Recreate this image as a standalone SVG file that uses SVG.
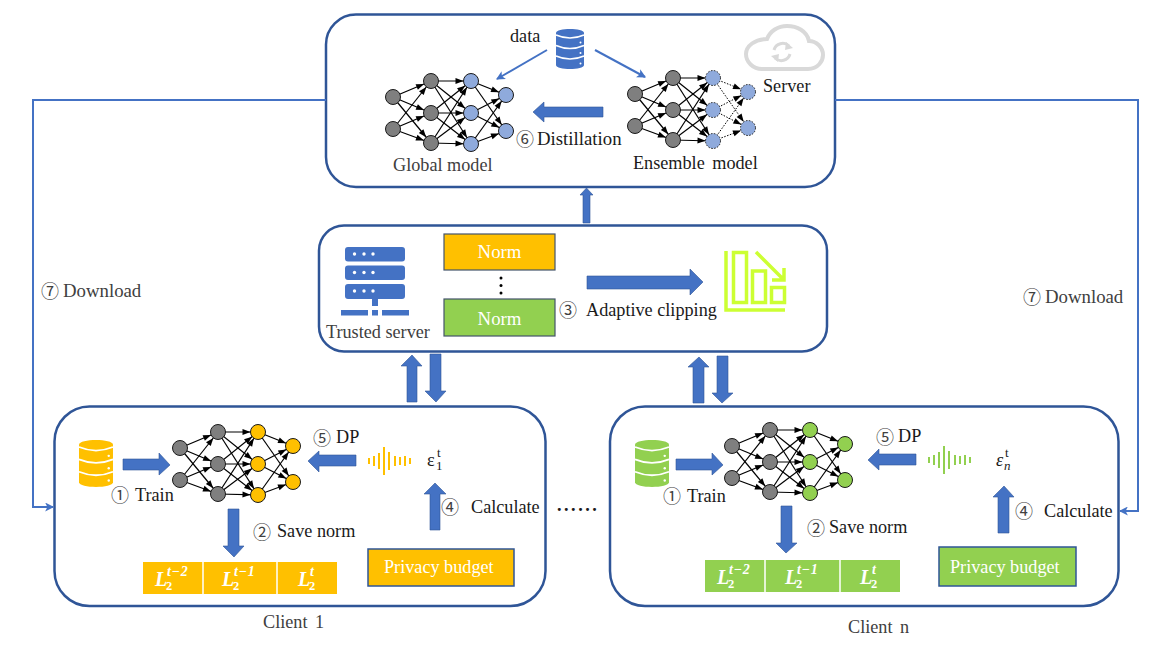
<svg xmlns="http://www.w3.org/2000/svg" width="1150" height="657" viewBox="0 0 1150 657">
<style>
text{font-family:"Liberation Serif","Noto Sans CJK SC",serif;font-size:18.2px;fill:#1a1a1a}
.big{font-size:18.8px}
.g{fill:#404040}
.c{font-size:18px;fill:#404040}
.w{fill:#fff}
.box{fill:#fff;stroke:#2f5597;stroke-width:2.5}
.ba{fill:#4472c4;stroke:#2f5597;stroke-width:.6}
.link{fill:none;stroke:#4472c4;stroke-width:2}
.e{stroke:#000;stroke-width:1.2;marker-end:url(#tip)}
.d{stroke:#000;stroke-width:1;stroke-dasharray:1.5 1.5;marker-end:url(#tip)}
.n{stroke:#1a1a1a;stroke-width:1}
.nd{stroke:#1a1a1a;stroke-width:1;stroke-dasharray:1.5 1.5}
.sep{fill:none;stroke:#fff;stroke-width:1.5}
.lb{font-size:20px;font-weight:bold;font-style:italic;fill:#fff}
.ls{font-size:14px;font-weight:bold;font-style:italic;fill:#fff;letter-spacing:.7px}
.l2{font-size:12.5px;font-weight:bold;font-style:normal;fill:#fff}
.sm{font-size:13px}
.srv{fill:#4472c4}
.clip{fill:none;stroke:#ccff33;stroke-width:3.5}
</style>
<defs>
<marker id="tip" viewBox="0 0 8 6" refX="15.5" refY="3" markerWidth="8" markerHeight="6" markerUnits="userSpaceOnUse" orient="auto" overflow="visible"><path d="M0 0L8 3L0 6Z" fill="#000"/></marker>
<marker id="open" viewBox="0 0 8 8" refX="7" refY="4" markerWidth="9" markerHeight="9" markerUnits="userSpaceOnUse" orient="auto"><path d="M0 0L8 4L0 8L2 4Z" fill="#4472c4"/></marker>
<g id="e12">
<path class="e" d="M0 16L38 0"/><path class="e" d="M0 16L38 32"/><path class="e" d="M0 16L38 62"/>
<path class="e" d="M0 48L38 0"/><path class="e" d="M0 48L38 32"/><path class="e" d="M0 48L38 62"/>
</g>
<g id="e23">
<path class="e" d="M38 0L78 0"/><path class="e" d="M38 0L78 32"/><path class="e" d="M38 0L78 63"/>
<path class="e" d="M38 32L78 0"/><path class="e" d="M38 32L78 32"/><path class="e" d="M38 32L78 63"/>
<path class="e" d="M38 62L78 0"/><path class="e" d="M38 62L78 32"/><path class="e" d="M38 62L78 63"/>
</g>
<g id="e34">
<path class="e" d="M78 0L113 14"/><path class="e" d="M78 0L113 50"/>
<path class="e" d="M78 32L113 14"/><path class="e" d="M78 32L113 50"/>
<path class="e" d="M78 63L113 14"/><path class="e" d="M78 63L113 50"/>
</g>
<g id="e34d">
<path class="d" d="M78 0L113 14"/><path class="d" d="M78 0L113 50"/>
<path class="d" d="M78 32L113 14"/><path class="d" d="M78 32L113 50"/>
<path class="d" d="M78 63L113 14"/><path class="d" d="M78 63L113 50"/>
</g>
<g id="n12" fill="#7f7f7f">
<circle class="n" cx="0" cy="16" r="7.5"/><circle class="n" cx="0" cy="48" r="7.5"/>
<circle class="n" cx="38" cy="0" r="7.5"/><circle class="n" cx="38" cy="32" r="7.5"/><circle class="n" cx="38" cy="62" r="7.5"/>
</g>
<g id="n34">
<circle class="n" cx="78" cy="0" r="7.5"/><circle class="n" cx="78" cy="32" r="7.5"/><circle class="n" cx="78" cy="63" r="7.5"/>
<circle class="n" cx="113" cy="14" r="7.5"/><circle class="n" cx="113" cy="50" r="7.5"/>
</g>
<g id="n34d">
<circle class="nd" cx="78" cy="0" r="7.5"/><circle class="nd" cx="78" cy="32" r="7.5"/><circle class="nd" cx="78" cy="63" r="7.5"/>
<circle class="nd" cx="113" cy="14" r="7.5"/><circle class="nd" cx="113" cy="50" r="7.5"/>
</g>
<g id="db">
<path d="M0 4C0 -1.300 28 -1.300 28 4V36C28 41.300 0 41.300 0 36Z"/>
<path class="sep" d="M0 6Q14 12 28 6M0 16.500Q14 22.500 28 16.500M0 27Q14 33 28 27"/>
<circle cx="24.500" cy="13.500" r="1" fill="#fff"/><circle cx="24.500" cy="24" r="1" fill="#fff"/><circle cx="24.500" cy="34.500" r="1" fill="#fff"/>
</g>
<g id="wave" fill="none" stroke-width="2">
<path d="M369 458V464M374 456V466M379 453V469M384 447V475M389 452V470M395 456V466M400 457V465M405 456V466M410 458V464"/>
</g>
</defs>
<rect width="1150" height="657" fill="#fff"/>

<g id="server-box">
<rect class="box" x="326" y="14.500" width="509" height="172.500" rx="30"/>
<use href="#db" transform="translate(556 29)" fill="#4472c4"/>
<text x="510" y="42">data</text>
<g id="cloud" fill="none" stroke="#d9d9d9">
<path stroke-width="4" d="M762 69H808C818 69 823 61 823 55C823 47 816 41 809 41C807 31 797 26 787 26C778 26 770 31 767 39C755 39 746 46 746 54C746 62 753 69 762 69Z"/>
<path stroke-width="3" d="M774 50A9 9 0 0 1 789 46M790 54A9 9 0 0 1 775 58"/>
<path stroke="none" fill="#d9d9d9" d="M786 42L793 48L785 50ZM778 62L771 56L779 54Z"/>
</g>
<text x="763" y="92">Server</text>
<text x="516" y="146" class="c">⑥</text>
<text x="537" y="145" class="big">Distillation</text>
<text x="393" y="171" class="g">Global model</text>
<text x="633" y="169" word-spacing="3">Ensemble model</text>
</g>
<g id="global-model" transform="translate(393 81)">
<use href="#e12"/><use href="#e23"/><use href="#e34"/><use href="#n12"/><use href="#n34" fill="#8faadc"/>
</g>
<g id="ensemble-model" transform="translate(635 78)">
<use href="#e12"/><use href="#e23"/><use href="#e34d"/><use href="#n12"/><use href="#n34d" fill="#8faadc"/>
</g>

<g id="trusted-server">
<rect class="box" x="319" y="225.500" width="508" height="126" rx="25"/>
<rect class="srv" x="345" y="247" width="60" height="14.500" rx="3"/>
<rect class="srv" x="345" y="265.500" width="60" height="14.500" rx="3"/>
<rect class="srv" x="345" y="284" width="60" height="15" rx="3"/>
<g fill="#fff"><circle cx="354.500" cy="254" r="1.700"/><circle cx="364" cy="254" r="1.700"/><circle cx="373" cy="254" r="1.700"/><circle cx="354.500" cy="272.500" r="1.700"/><circle cx="364" cy="272.500" r="1.700"/><circle cx="373" cy="272.500" r="1.700"/><circle cx="354.500" cy="291" r="1.700"/><circle cx="364" cy="291" r="1.700"/><circle cx="373" cy="291" r="1.700"/></g>
<rect class="srv" x="372" y="299" width="6" height="7"/>
<rect class="srv" x="341" y="310" width="27" height="5.500"/>
<rect class="srv" x="372" y="310" width="6" height="5.500"/>
<rect class="srv" x="382" y="310" width="27" height="5.500"/>
<text x="326" y="338" class="g">Trusted server</text>
<rect x="444" y="234" width="111" height="36" fill="#ffc000" stroke="#44546a" stroke-width="1.200"/>
<text x="499.500" y="258" text-anchor="middle" class="w big">Norm</text>
<circle cx="501" cy="278" r="1.500" fill="#000"/><circle cx="501" cy="285.500" r="1.500" fill="#000"/><circle cx="501" cy="293" r="1.500" fill="#000"/>
<rect x="444" y="299" width="111" height="37" fill="#92d050" stroke="#44546a" stroke-width="1.200"/>
<text x="499.500" y="325" text-anchor="middle" class="w big">Norm</text>
<text x="559" y="317" class="c">③</text>
<text x="586" y="316">Adaptive clipping</text>
<g id="clip-icon" class="clip">
<path d="M726 251V310H785"/>
<rect x="733.500" y="252.500" width="13" height="50"/>
<rect x="752.500" y="271" width="13" height="31.500"/>
<rect x="771.500" y="287.500" width="13" height="15"/>
<path d="M756 252L783 279M772 280H784V268"/>
</g>
</g>

<g id="client-1">
<rect class="box" x="54.500" y="406.500" width="491" height="199.500" rx="35"/>
<use href="#db" transform="translate(79 440) scale(1.214 1.175)" fill="#ffc000"/>
<g transform="translate(180 432)"><use href="#e12"/><use href="#e23"/><use href="#e34"/><use href="#n12"/><use href="#n34" fill="#ffc000"/></g>
<use href="#wave" stroke="#ffc000"/>
<text x="111" y="502" class="c">①</text><text x="135" y="501">Train</text>
<text x="313" y="445" class="c">⑤</text><text x="336" y="443">DP</text>
<text x="253" y="539" class="c">②</text><text x="277" y="537">Save norm</text>
<text x="441" y="514" class="c">④</text><text x="471" y="513">Calculate</text>
<text x="427" y="466">ε<tspan class="sm" x="437" dy="-9">t</tspan><tspan class="sm" x="436" dy="13">1</tspan></text>
<rect x="143" y="562" width="194" height="32" fill="#ffc000"/>
<path class="sep" d="M203 562V594M277 562V594"/>
<text x="155" y="586" class="lb">L<tspan class="ls" x="167" dy="-10">t−2</tspan><tspan class="l2" x="166" dy="14">2</tspan></text>
<text x="222" y="586" class="lb">L<tspan class="ls" x="234" dy="-10">t−1</tspan><tspan class="l2" x="233" dy="14">2</tspan></text>
<text x="298" y="586" class="lb">L<tspan class="ls" x="310" dy="-10">t</tspan><tspan class="l2" x="309" dy="14">2</tspan></text>
<rect x="368" y="549" width="146" height="37" fill="#ffc000" stroke="#2f5597" stroke-width="1.500"/>
<text x="384" y="573" class="w">Privacy budget</text>
<text x="263" y="628" class="g" word-spacing="3">Client 1</text>
</g>

<text id="ellipsis" x="557" y="511" font-weight="bold" letter-spacing="2.500">......</text>

<g id="client-n">
<rect class="box" x="610" y="406.500" width="508.500" height="199.500" rx="35"/>
<use href="#db" transform="translate(635 440) scale(1.214 1.175)" fill="#92d050"/>
<g transform="translate(732 430)"><use href="#e12"/><use href="#e23"/><use href="#e34"/><use href="#n12"/><use href="#n34" fill="#92d050"/></g>
<use href="#wave" stroke="#92d050" transform="translate(560 -1)"/>
<text x="663" y="503" class="c">①</text><text x="687" y="502">Train</text>
<text x="876" y="444" class="c">⑤</text><text x="898" y="442">DP</text>
<text x="807" y="535" class="c">②</text><text x="829" y="533">Save norm</text>
<text x="1015" y="518" class="c">④</text><text x="1044" y="517">Calculate</text>
<text x="996" y="466" font-style="italic">ε<tspan class="sm" x="1005" dy="-9" font-style="normal">t</tspan><tspan class="sm" x="1004" dy="13">n</tspan></text>
<rect x="705" y="560" width="195" height="32" fill="#92d050"/>
<path class="sep" d="M765 560V592M840 560V592"/>
<text x="717" y="584" class="lb">L<tspan class="ls" x="729" dy="-10">t−2</tspan><tspan class="l2" x="728" dy="14">2</tspan></text>
<text x="785" y="584" class="lb">L<tspan class="ls" x="797" dy="-10">t−1</tspan><tspan class="l2" x="796" dy="14">2</tspan></text>
<text x="860" y="584" class="lb">L<tspan class="ls" x="872" dy="-10">t</tspan><tspan class="l2" x="871" dy="14">2</tspan></text>
<rect x="939" y="547" width="137" height="39" fill="#92d050" stroke="#2f5597" stroke-width="1.500"/>
<text x="950" y="573" class="w">Privacy budget</text>
<text x="848" y="633" class="g" word-spacing="3">Client n</text>
</g>

<g id="download-labels">
<text x="41" y="298" class="c">⑦</text><text x="63" y="297" class="g big">Download</text>
<text x="1023" y="304" class="c">⑦</text><text x="1045" y="303" class="g big">Download</text>
</g>

<g id="connectors">
<path class="link" d="M326 100H33V507H53" marker-end="url(#open)"/>
<path class="link" d="M835 100H1138V511H1120" marker-end="url(#open)"/>
<path class="link" d="M547 50L497 79" marker-end="url(#open)"/>
<path class="link" d="M595 50L645 77" marker-end="url(#open)"/>
<polygon class="ba" points="583,223 583,195 580,195 586.500,188 593,195 590,195 590,223"/>
<polygon class="ba" points="603,107 544,107 544,102 533,112 544,122 544,117 603,117"/>
<polygon class="ba" points="587,276 690,276 690,269 703,282 690,295 690,289 587,289"/>
<polygon class="ba" points="407,402 407,366 401,366 412,355 422,366 417,366 417,402"/>
<polygon class="ba" points="430,354 430,391 425,391 436,402 446,391 441,391 441,354"/>
<polygon class="ba" points="693,403 693,367 688,367 699,357 709,367 704,367 704,403"/>
<polygon class="ba" points="717,356 717,393 712,393 722,403 733,393 728,393 728,356"/>
<polygon class="ba" points="123,459 159,459 159,453 170,465 159,475 159,470 123,470"/>
<polygon class="ba" points="356,455 319,455 319,451 308,461 319,472 319,466 356,466"/>
<polygon class="ba" points="228,509 228,546 223,546 234,557 244,546 239,546 239,509"/>
<polygon class="ba" points="430,530 430,494 424,494 435,483 446,494 440,494 440,530"/>
<polygon class="ba" points="676,459 712,459 712,453 723,465 712,475 712,470 676,470"/>
<polygon class="ba" points="916,454 879,454 879,449 868,460 879,470 879,465 916,465"/>
<polygon class="ba" points="781,506 781,543 776,543 786,553 797,543 792,543 792,506"/>
<polygon class="ba" points="998,533 998,497 993,497 1004,486 1014,497 1009,497 1009,533"/>
</g>
</svg>
